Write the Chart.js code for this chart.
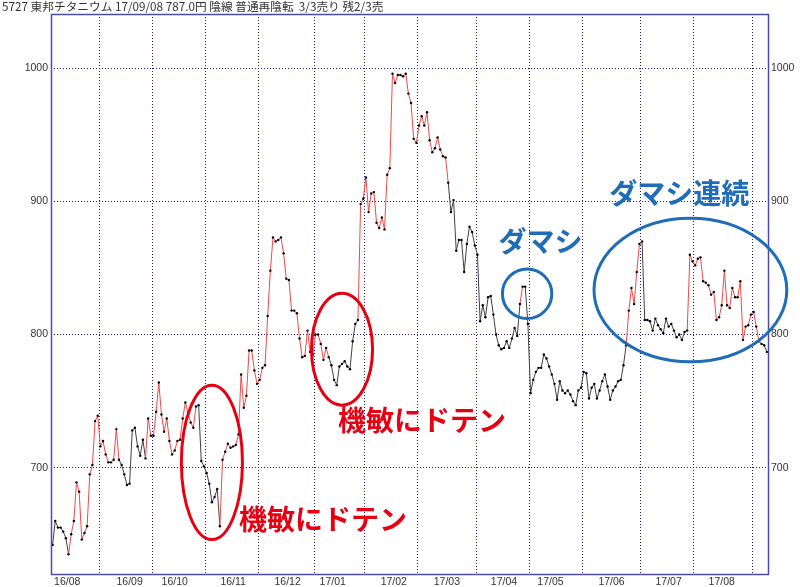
<!DOCTYPE html>
<html>
<head>
<meta charset="utf-8">
<script src="https://cdn.jsdelivr.net/npm/chart.js@4.4.0/dist/chart.umd.min.js"></script>
<style>
  html, body { margin: 0; padding: 0; background: #fff; }
  #wrap { position: relative; width: 800px; height: 587px; }
</style>
</head>
<body>
<div id="wrap"><canvas id="priceChart" width="800" height="587"></canvas></div>
<script>
// daily closes, one array per month
const aug16 = [642, 660, 655, 655, 652, 647, 635, 650, 660, 689, 682, 646, 651, 656, 695, 702, 735, 739];
const sep16 = [716, 720, 710, 704, 704, 706, 729, 706, 702, 695, 687, 688, 728, 730, 716, 709, 721, 707, 737, 724];
const oct16 = [724, 742, 764, 740, 727, 737, 720, 710, 713, 720, 721, 737, 749, 741, 734, 730, 746, 747, 705, 701];
const nov16 = [696, 688, 674, 678, 684, 656, 706, 712, 718, 715, 716, 717, 725, 770, 745, 754, 788, 788, 773, 763];
const dec16 = [766, 775, 777, 814, 848, 873, 870, 871, 873, 861, 842, 841, 818, 818, 816, 797, 783, 784, 803, 787, 785];
const jan17 = [800, 800, 793, 781, 790, 783, 777, 766, 762, 776, 778, 780, 776, 774, 795, 808, 811, 898, 902];
const feb17 = [918, 892, 906, 907, 884, 880, 888, 879, 920, 925, 996, 989, 995, 995, 994, 996, 981, 974, 947, 944];
const mar17 = [957, 964, 957, 967, 946, 937, 940, 948, 939, 934, 933, 914, 892, 901, 863, 871, 871, 847, 868, 881, 877, 867];
const apr17 = [860, 810, 822, 813, 828, 829, 815, 800, 792, 789, 790, 795, 790, 797, 805, 799, 823, 836, 836, 808];
const may17 = [756, 766, 772, 775, 775, 785, 782, 776, 770, 763, 751, 765, 758, 756, 758, 755, 750, 747, 758, 760];
const jun17 = [772, 771, 752, 760, 763, 752, 758, 765, 770, 761, 751, 758, 761, 765, 766, 777, 792, 818, 835, 823, 847, 868];
const jul17 = [870, 811, 811, 810, 803, 812, 807, 804, 801, 812, 806, 808, 803, 798, 800, 796, 802, 803, 860, 855];
const aug17 = [852, 857, 858, 840, 839, 837, 830, 832, 811, 813, 822, 848, 822, 820, 835, 828, 828, 840, 796, 806, 807, 815];
const sep17 = [817, 806, 795, 793, 792, 787];

const months = [aug16, sep16, oct16, nov16, dec16, jan17, feb17, mar17, apr17, may17, jun17, jul17, aug17, sep17];
const monthLabels = ['16/08', '16/09', '16/10', '16/11', '16/12', '17/01', '17/02', '17/03', '17/04', '17/05', '17/06', '17/07', '17/08'];
// label sits near mid-month (day index)
const labelDay = [5.5, 29, 46, 68, 88.5, 105.5, 128.5, 148.5, 170, 187.5, 210.5, 232, 252];
const yTicks = [700, 800, 900, 1000];

// buy phases (red line): [from index, to index]
const redRuns = [[6, 25], [35, 55], [63, 104], [115, 149], [176, 177], [216, 222], [239, 266]];

const titleText = '5727 東邦チタニウム 17/09/08 787.0円 陰線 普通再陰転  3/3売り 残2/3売';

const RED = '#e60012';
const BLUE = '#1f6db6';

// hand-drawn style notes, in day / price units
const notes = [
  { kind: 'ellipse', x: 60, y: 704, rx: 11.5, ry: 58, color: RED },
  { kind: 'text', x: 70.2, y: 661, text: '機敏にドテン', color: RED },
  { kind: 'ellipse', x: 109, y: 789, rx: 11.5, ry: 42, color: RED },
  { kind: 'text', x: 107.5, y: 735.5, text: '機敏にドテン', color: RED },
  { kind: 'ellipse', x: 178.7, y: 830.7, rx: 9.3, ry: 18.6, color: BLUE },
  { kind: 'text', x: 167.9, y: 870.3, text: 'ダマシ', color: BLUE },
  { kind: 'ellipse', x: 240.2, y: 833.5, rx: 36.3, ry: 53.9, color: BLUE },
  { kind: 'text', x: 209.6, y: 906, text: 'ダマシ連続', color: BLUE }
];

const closes = months.flat();
const monthBreaks = [];
let count = 0;
months.slice(0, -1).forEach(m => { count += m.length; monthBreaks.push(count - 0.5); });

function isRed(i) {
  return redRuns.some(r => i >= r[0] && i < r[1]);
}

const xTicks = monthBreaks.concat(labelDay).sort((a, b) => a - b);

const framePlugin = {
  id: 'frame',
  beforeDraw(chart) {
    const c = chart.ctx;
    c.save();
    c.fillStyle = '#333';
    c.font = '11.7px "Noto Sans CJK JP"';
    c.textBaseline = 'middle';
    c.fillText(titleText, 2, 7);
    c.restore();
  },
  afterDraw(chart) {
    const c = chart.ctx;
    const a = chart.chartArea;
    const xs = chart.scales.x, ys = chart.scales.y;
    c.save();
    c.strokeStyle = '#4c4ca8';
    c.lineWidth = 1.5;
    c.strokeRect(a.left + 0.5, a.top + 0.5, a.right - a.left - 1, a.bottom - a.top - 1);

    notes.forEach(n => {
      const px = xs.getPixelForValue(n.x);
      const py = ys.getPixelForValue(n.y);
      if (n.kind === 'ellipse') {
        const rx = Math.abs(xs.getPixelForValue(n.x + n.rx) - px);
        const ry = Math.abs(ys.getPixelForValue(n.y + n.ry) - py);
        c.beginPath();
        c.ellipse(px, py, rx, ry, 0, 0, Math.PI * 2);
        c.strokeStyle = n.color;
        c.lineWidth = 3;
        c.stroke();
      } else {
        c.fillStyle = n.color;
        c.font = 'bold 28px "Noto Sans CJK JP"';
        c.textBaseline = 'middle';
        c.textAlign = 'left';
        c.fillText(n.text, px, py);
      }
    });
    c.restore();
  }
};

const tickFont = { family: '"Liberation Sans", Arial, sans-serif', size: 10.5 };
const gridColor = '#24247e';

new Chart(document.getElementById('priceChart'), {
  type: 'line',
  data: {
    datasets: [{
      data: closes.map((v, i) => ({ x: i, y: v })),
      borderWidth: 1,
      borderColor: '#404040',
      segment: {
        borderColor: ctx => isRed(ctx.p0DataIndex) ? '#f04848' : '#404040'
      },
      pointRadius: 1.2,
      pointBackgroundColor: '#000',
      pointBorderWidth: 0,
      tension: 0
    }]
  },
  options: {
    responsive: false,
    animation: false,
    devicePixelRatio: 1,
    events: [],
    layout: { padding: { top: 14, left: 0, right: 0, bottom: 0 } },
    plugins: { legend: { display: false }, tooltip: { enabled: false } },
    scales: {
      x: {
        type: 'linear',
        min: -0.6,
        max: 269.8,
        afterBuildTicks: s => { s.ticks = xTicks.map(v => ({ value: v })); },
        afterFit: s => { s.height = 12; },
        grid: {
          drawTicks: false,
          color: ctx => (ctx.tick && monthBreaks.includes(ctx.tick.value)) ? gridColor : 'rgba(0,0,0,0)'
        },
        border: { display: false, dash: [1, 2] },
        ticks: {
          autoSkip: false,
          maxRotation: 0,
          padding: 1,
          color: '#333',
          font: tickFont,
          callback: v => {
            const k = labelDay.indexOf(v);
            return k >= 0 ? monthLabels[k] : '';
          }
        }
      },
      y: {
        type: 'linear',
        position: 'left',
        min: 619.4,
        max: 1040.8,
        afterBuildTicks: s => { s.ticks = yTicks.map(v => ({ value: v })); },
        afterFit: s => { s.width = 51; },
        grid: { color: gridColor, drawTicks: false },
        border: { display: false, dash: [1, 2] },
        ticks: { padding: 3, color: '#333', font: tickFont, callback: v => String(v) }
      },
      y2: {
        type: 'linear',
        position: 'right',
        min: 619.4,
        max: 1040.8,
        afterBuildTicks: s => { s.ticks = yTicks.map(v => ({ value: v })); },
        afterFit: s => { s.width = 31; },
        grid: { display: false, drawTicks: false },
        border: { display: false },
        ticks: { padding: 2, color: '#333', font: tickFont, callback: v => String(v) }
      }
    }
  },
  plugins: [framePlugin]
});
</script>
</body>
</html>
